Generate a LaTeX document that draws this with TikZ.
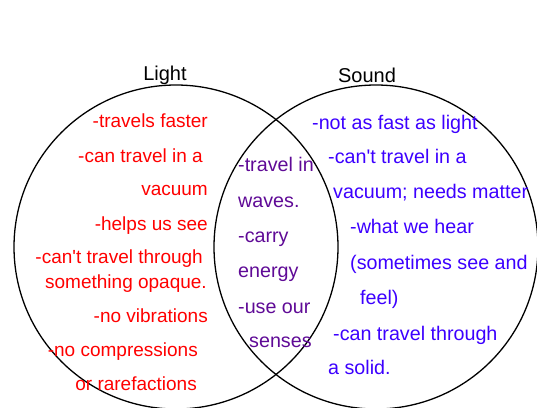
\documentclass[tikz,border=0pt]{standalone}
\usepackage{fontspec}
\setmainfont{Liberation Sans}
\usetikzlibrary{positioning}
\definecolor{lightred}{RGB}{255,0,0}
\definecolor{soundblue}{RGB}{60,0,255}
\definecolor{bothpurple}{RGB}{95,10,150}

\begin{document}
\begin{tikzpicture}[
		x=1pt, y=-1pt,
		ring/.style={draw, line width=1.3pt},
		title/.style={font=\fontsize{20pt}{24pt}\selectfont, inner sep=0pt},
		lightline/.style={anchor=mid east, inner sep=0pt, text=lightred, font=\fontsize{19pt}{23pt}\selectfont},
		soundline/.style={anchor=mid west, inner sep=0pt, text=soundblue, font=\fontsize{19.7pt}{23pt}\selectfont},
		bothline/.style={anchor=mid west, inner sep=0pt, text=bothpurple, font=\fontsize{19.7pt}{23pt}\selectfont}
		]
		
		\useasboundingbox (0,0) rectangle (537,407);
		
		% --------------------------------------------------
		% The two circles
		% --------------------------------------------------
		\coordinate (Lc) at (176,247);
		\coordinate (Sc) at (376,247);
		\draw[ring] (Lc) circle (162pt);
		\draw[ring] (Sc) circle (162pt);
		
		\node[title] (Tl) at (165,75) {Light};
		\node[title] (Ts) at (367,75) {Sound};
		
		% --------------------------------------------------
		% Light only
		% --------------------------------------------------
		\node[lightline] (L1) at (208,125) {-travels faster};
		\node[lightline] (L2) at (203,160) {-can travel in a};
		\node[lightline] (L3) at (208,193) {vacuum};
		\node[lightline] (L4) at (208,228) {-helps us see};
		\node[lightline] (L5) at (203,261) {-can\textquotesingle t travel through};
		\node[lightline] (L6) at (207,286) {something opaque.};
		\node[lightline] (L7) at (208,320) {-no vibrations};
		\node[lightline] (L8) at (198,354) {-no compressions};
		\node[lightline] (L9) at (197,388) {or rarefactions};
		
		% --------------------------------------------------
		% Both
		% --------------------------------------------------
		\node[bothline] (B1) at (238,169) {-travel in};
		\node[bothline] (B2) at (238,205) {waves.};
		\node[bothline] (B3) at (238,240) {-carry};
		\node[bothline] (B4) at (238,275) {energy};
		\node[bothline] (B5) at (238,311) {-use our};
		\node[bothline] (B6) at (249,345) {senses};
		
		% --------------------------------------------------
		% Sound only
		% --------------------------------------------------
		\node[soundline] (S1) at (312,127) {-not as fast as light};
		\node[soundline] (S2) at (328,161) {-can\textquotesingle t travel in a};
		\node[soundline] (S3) at (333,196) {vacuum; needs matter};
		\node[soundline] (S4) at (350,231) {-what we hear};
		\node[soundline] (S5) at (350,267) {(sometimes see and};
		\node[soundline] (S6) at (360,302) {feel)};
		\node[soundline] (S7) at (333,338) {-can travel through};
		\node[soundline] (S8) at (328,372) {a solid.};
		
	\end{tikzpicture}
\end{document}
